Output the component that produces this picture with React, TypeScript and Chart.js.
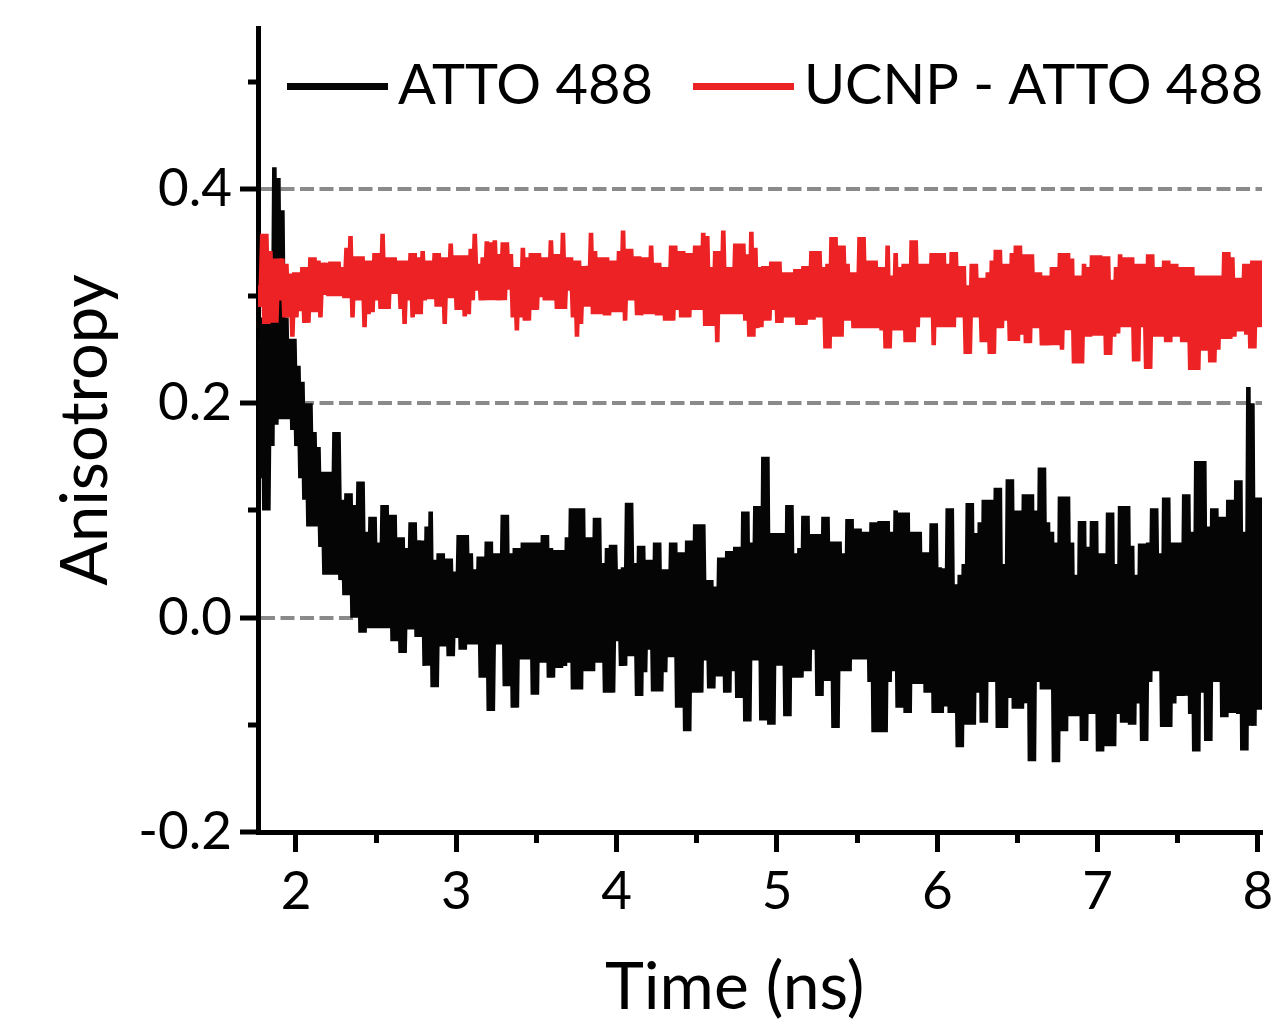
import React, { useEffect, useRef } from 'react';
import { Chart, registerables } from 'chart.js';

Chart.register(...registerables);

// ---- data ----
const SERIES_LABELS = ['ATTO 488', 'UCNP - ATTO 488'];
const SERIES_COLORS = ['#050505', '#ED2224'];
const X_TITLE = 'Time (ns)';
const Y_TITLE = 'Anisotropy';
const X_RANGE = [1.763, 8.025];
const Y_RANGE = [-0.2, 0.55];
// sampling grid of the decay trace (ns)
const T0 = 1.765;
const DT = 0.0125;

// ATTO 488 anisotropy (noisy trace)
const ATTO = [
  0.26,0.13, 0.28,0.10, 0.29,0.10, 0.30,0.16, 0.42,0.18, 0.41,0.185, 0.38,0.185, 0.28,0.185, 0.26,0.175, 0.26,0.16,
  0.235,0.13, 0.22,0.11, 0.20,0.085, 0.20,0.085, 0.173,0.085, 0.159,0.066, 0.136,0.04, 0.136,0.04, 0.136,0.04, 0.173,0.04,
  0.173,0.035, 0.11,0.021, 0.116,0.021, 0.116,0.0, 0.105,0.0, 0.127,-0.014, 0.127,-0.014, 0.08,-0.01, 0.094,-0.01, 0.094,-0.01,
  0.07,-0.01, 0.105,-0.01, 0.105,-0.01, 0.096,-0.022, 0.096,-0.022, 0.075,-0.033, 0.075,-0.033, 0.065,-0.011, 0.089,-0.011, 0.089,-0.018,
  0.072,-0.018, 0.072,-0.045, 0.085,-0.045, 0.099,-0.065, 0.054,-0.065, 0.06,-0.027, 0.06,-0.027, 0.055,-0.036, 0.055,-0.036, 0.043,-0.019,
  0.077,-0.03, 0.077,-0.03, 0.077,-0.025, 0.06,-0.025, 0.045,-0.025, 0.057,-0.056, 0.057,-0.056, 0.071,-0.087, 0.071,-0.087, 0.06,-0.025,
  0.06,-0.025, 0.096,-0.064, 0.096,-0.064, 0.06,-0.084, 0.065,-0.084, 0.065,-0.039, 0.07,-0.039, 0.07,-0.039, 0.07,-0.072, 0.07,-0.072,
  0.07,-0.042, 0.077,-0.042, 0.077,-0.056, 0.065,-0.056, 0.063,-0.047, 0.063,-0.047, 0.063,-0.045, 0.075,-0.042, 0.102,-0.067, 0.102,-0.067,
  0.102,-0.067, 0.102,-0.05, 0.075,-0.05, 0.075,-0.05, 0.093,-0.042, 0.093,-0.042, 0.051,-0.07, 0.065,-0.07, 0.068,-0.07, 0.068,-0.022,
  0.045,-0.045, 0.047,-0.045, 0.107,-0.036, 0.107,-0.036, 0.051,-0.073, 0.067,-0.073, 0.067,-0.051, 0.054,-0.03, 0.054,-0.069, 0.07,-0.069,
  0.07,-0.069, 0.045,-0.051, 0.045,-0.037, 0.07,-0.037, 0.07,-0.084, 0.061,-0.084, 0.061,-0.106, 0.072,-0.106, 0.072,-0.07, 0.087,-0.07,
  0.087,-0.07, 0.087,-0.04, 0.035,-0.066, 0.035,-0.066, 0.029,-0.055, 0.056,-0.055, 0.056,-0.07, 0.062,-0.07, 0.062,-0.05, 0.066,-0.075,
  0.066,-0.075, 0.099,-0.097, 0.099,-0.097, 0.07,-0.04, 0.104,-0.04, 0.104,-0.096, 0.15,-0.096, 0.15,-0.1, 0.079,-0.1, 0.079,-0.045,
  0.079,-0.045, 0.079,-0.092, 0.105,-0.092, 0.105,-0.056, 0.06,-0.056, 0.065,-0.056, 0.095,-0.05, 0.095,-0.05, 0.078,-0.03, 0.078,-0.073,
  0.078,-0.073, 0.094,-0.059, 0.094,-0.059, 0.071,-0.103, 0.071,-0.103, 0.071,-0.05, 0.06,-0.05, 0.092,-0.05, 0.092,-0.039, 0.083,-0.039,
  0.083,-0.039, 0.08,-0.039, 0.08,-0.06, 0.089,-0.107, 0.089,-0.107, 0.09,-0.107, 0.09,-0.107, 0.09,-0.06, 0.08,-0.05, 0.1,-0.084,
  0.098,-0.084, 0.098,-0.089, 0.098,-0.089, 0.08,-0.062, 0.08,-0.062, 0.08,-0.062, 0.061,-0.07, 0.061,-0.07, 0.088,-0.089, 0.088,-0.089,
  0.047,-0.089, 0.046,-0.083, 0.102,-0.089, 0.102,-0.089, 0.031,-0.121, 0.04,-0.121, 0.05,-0.1, 0.107,-0.1, 0.107,-0.1, 0.079,-0.07,
  0.089,-0.098, 0.11,-0.098, 0.11,-0.06, 0.11,-0.06, 0.121,-0.103, 0.121,-0.103, 0.05,-0.103, 0.129,-0.075, 0.129,-0.085, 0.1,-0.085,
  0.1,-0.085, 0.115,-0.08, 0.115,-0.134, 0.115,-0.134, 0.1,-0.06, 0.14,-0.067, 0.14,-0.067, 0.089,-0.067, 0.08,-0.135, 0.07,-0.135,
  0.113,-0.106, 0.113,-0.106, 0.113,-0.092, 0.07,-0.092, 0.04,-0.092, 0.09,-0.115, 0.09,-0.115, 0.066,-0.09, 0.09,-0.09, 0.09,-0.125,
  0.06,-0.125, 0.06,-0.12, 0.098,-0.12, 0.098,-0.12, 0.05,-0.09, 0.104,-0.098, 0.104,-0.098, 0.104,-0.1, 0.067,-0.1, 0.04,-0.08,
  0.069,-0.115, 0.069,-0.115, 0.07,-0.06, 0.102,-0.05, 0.102,-0.05, 0.06,-0.102, 0.112,-0.102, 0.112,-0.102, 0.07,-0.08, 0.07,-0.073,
  0.07,-0.073, 0.115,-0.073, 0.115,-0.09, 0.08,-0.125, 0.146,-0.125, 0.146,-0.07, 0.146,-0.115, 0.085,-0.115, 0.102,-0.06, 0.102,-0.06,
  0.094,-0.093, 0.094,-0.093, 0.11,-0.089, 0.11,-0.089, 0.128,-0.09, 0.128,-0.124, 0.08,-0.124, 0.215,-0.101, 0.2,-0.101, 0.112,-0.086, 0.112,-0.086,
];

// UCNP - ATTO 488 anisotropy (noisy trace)
const UCNP = [
  0.31,0.29, 0.358,0.274, 0.358,0.274, 0.342,0.275, 0.335,0.275, 0.335,0.296, 0.335,0.28, 0.33,0.28, 0.321,0.262, 0.322,0.28,
  0.322,0.286, 0.327,0.275, 0.327,0.275, 0.336,0.285, 0.336,0.285, 0.333,0.28, 0.331,0.301, 0.331,0.3, 0.332,0.3, 0.332,0.3,
  0.332,0.3, 0.327,0.298, 0.345,0.298, 0.356,0.28, 0.337,0.296, 0.337,0.296, 0.337,0.271, 0.333,0.283, 0.333,0.285, 0.34,0.296,
  0.34,0.288, 0.358,0.288, 0.336,0.288, 0.336,0.302, 0.336,0.302, 0.333,0.288, 0.333,0.274, 0.333,0.296, 0.34,0.28, 0.34,0.283,
  0.336,0.283, 0.342,0.296, 0.333,0.297, 0.333,0.297, 0.34,0.29, 0.34,0.29, 0.336,0.274, 0.336,0.298, 0.349,0.298, 0.338,0.287,
  0.338,0.287, 0.338,0.281, 0.338,0.283, 0.344,0.296, 0.358,0.305, 0.33,0.296, 0.336,0.296, 0.351,0.296, 0.35,0.296, 0.352,0.296,
  0.339,0.296, 0.35,0.296, 0.35,0.306, 0.339,0.28, 0.327,0.268, 0.327,0.28, 0.345,0.277, 0.336,0.277, 0.34,0.287, 0.34,0.287,
  0.34,0.299, 0.336,0.296, 0.336,0.296, 0.352,0.296, 0.339,0.288, 0.339,0.288, 0.359,0.288, 0.336,0.305, 0.336,0.28, 0.333,0.262,
  0.333,0.274, 0.328,0.29, 0.328,0.29, 0.359,0.283, 0.342,0.283, 0.336,0.283, 0.336,0.282, 0.336,0.282, 0.333,0.285, 0.333,0.285,
  0.342,0.285, 0.361,0.277, 0.344,0.296, 0.344,0.296, 0.337,0.282, 0.337,0.282, 0.336,0.283, 0.336,0.283, 0.347,0.283, 0.331,0.282,
  0.331,0.282, 0.327,0.277, 0.327,0.277, 0.347,0.277, 0.347,0.287, 0.342,0.28, 0.342,0.28, 0.34,0.28, 0.34,0.287, 0.347,0.287,
  0.347,0.287, 0.359,0.272, 0.356,0.272, 0.327,0.272, 0.342,0.257, 0.342,0.283, 0.361,0.283, 0.327,0.283, 0.327,0.283, 0.349,0.283,
  0.349,0.283, 0.349,0.277, 0.339,0.262, 0.36,0.262, 0.345,0.27, 0.327,0.271, 0.328,0.277, 0.328,0.277, 0.332,0.287, 0.332,0.275,
  0.332,0.275, 0.322,0.28, 0.322,0.28, 0.322,0.28, 0.325,0.273, 0.325,0.273, 0.328,0.273, 0.328,0.278, 0.342,0.278, 0.342,0.28,
  0.342,0.28, 0.327,0.251, 0.33,0.251, 0.355,0.262, 0.355,0.262, 0.347,0.262, 0.347,0.277, 0.33,0.277, 0.322,0.27, 0.322,0.27,
  0.355,0.27, 0.355,0.27, 0.333,0.27, 0.333,0.27, 0.333,0.27, 0.327,0.268, 0.327,0.251, 0.347,0.251, 0.319,0.268, 0.34,0.268,
  0.327,0.268, 0.33,0.257, 0.33,0.257, 0.352,0.257, 0.352,0.271, 0.33,0.28, 0.33,0.28, 0.33,0.28, 0.34,0.254, 0.34,0.271,
  0.34,0.271, 0.34,0.271, 0.33,0.271, 0.341,0.271, 0.341,0.28, 0.328,0.28, 0.328,0.246, 0.31,0.246, 0.33,0.28, 0.33,0.28,
  0.317,0.257, 0.317,0.257, 0.322,0.246, 0.333,0.246, 0.343,0.27, 0.343,0.27, 0.33,0.277, 0.33,0.258, 0.34,0.258, 0.347,0.258,
  0.347,0.264, 0.339,0.256, 0.339,0.256, 0.339,0.27, 0.322,0.27, 0.322,0.254, 0.319,0.254, 0.319,0.254, 0.327,0.254, 0.327,0.254,
  0.34,0.25, 0.34,0.268, 0.34,0.268, 0.335,0.237, 0.319,0.237, 0.319,0.237, 0.33,0.262, 0.327,0.262, 0.338,0.263, 0.338,0.263,
  0.338,0.263, 0.337,0.245, 0.337,0.245, 0.315,0.262, 0.327,0.265, 0.339,0.271, 0.336,0.271, 0.336,0.271, 0.336,0.239, 0.33,0.239,
  0.33,0.271, 0.33,0.232, 0.339,0.232, 0.339,0.262, 0.327,0.262, 0.327,0.262, 0.333,0.257, 0.333,0.257, 0.33,0.262, 0.33,0.262,
  0.327,0.257, 0.327,0.257, 0.327,0.231, 0.327,0.231, 0.319,0.231, 0.319,0.249, 0.319,0.249, 0.319,0.238, 0.319,0.238, 0.319,0.25,
  0.319,0.26, 0.341,0.26, 0.341,0.26, 0.336,0.262, 0.317,0.267, 0.317,0.267, 0.33,0.264, 0.33,0.251, 0.333,0.251, 0.333,0.271, 0.333,0.271,
];

const FONT = 'Lato, "Open Sans", sans-serif';
const W = 1282;
const H = 1024;

const toPoints = (vals: number[]) => vals.map((y, i) => ({ x: T0 + i * DT, y }));
const isInt = (v: number) => Math.abs(v - Math.round(v)) < 1e-6;
const isMajorY = (v: number) => Math.round(v * 10) % 2 === 0;
const hasGrid = (v: number) => {
  const k = Math.round(v * 10);
  return k === 0 || k === 2 || k === 4;
};

const makeSwatch = (color: string) => {
  const c = document.createElement('canvas');
  c.width = 101;
  c.height = 7;
  const g = c.getContext('2d');
  if (g) {
    g.fillStyle = color;
    g.fillRect(0, 0, 101, 7);
  }
  return c;
};

// places the legend inside the plot area (as in the reference) without reserving layout space
const legendInside = {
  id: 'legendInside',
  beforeInit(chart: any) {
    const lg = chart.legend;
    if (!lg) return;
    const orig = lg.fit;
    lg.fit = function () {
      orig.call(this);
      this.height = 0;
    };
  },
  afterLayout(chart: any) {
    const lg = chart.legend;
    if (!lg) return;
    lg.left = 247;
    lg.right = 1600;
    lg.top = 0;
    lg.bottom = 140;
    lg.width = lg.right - lg.left;
    lg.height = 140;
  },
};

export default function App() {
  const ref = useRef<HTMLCanvasElement | null>(null);

  useEffect(() => {
    if (!ref.current) return;
    const swatches = SERIES_COLORS.map(makeSwatch);
    const lineDataset = (i: number, vals: number[], order: number) => ({
      label: SERIES_LABELS[i],
      data: toPoints(vals),
      borderColor: SERIES_COLORS[i],
      backgroundColor: SERIES_COLORS[i],
      borderWidth: 4.6,
      borderJoinStyle: 'miter',
      pointRadius: 0,
      pointHoverRadius: 0,
      tension: 0,
      fill: false,
      order,
    });
    const chart = new Chart(ref.current, {
      type: 'line',
      data: {
        datasets: [lineDataset(0, ATTO, 2), lineDataset(1, UCNP, 1)],
      },
      options: {
        animation: false,
        responsive: false,
        devicePixelRatio: 1,
        events: [],
        layout: { padding: { left: 0, right: 20, top: 28, bottom: 0 } },
        plugins: {
          tooltip: { enabled: false },
          legend: {
            display: true,
            position: 'top',
            align: 'start',
            labels: {
              usePointStyle: true,
              pointStyleWidth: 65,
              boxHeight: 7,
              padding: 58,
              color: '#000',
              font: { family: FONT, size: 56 },
              generateLabels: (c: any) =>
                c.data.datasets.map((ds: any, i: number) => ({
                  text: ds.label,
                  fillStyle: ds.borderColor,
                  strokeStyle: ds.borderColor,
                  lineWidth: 0,
                  pointStyle: swatches[i],
                  hidden: false,
                  datasetIndex: i,
                })),
            },
          },
        },
        scales: {
          x: {
            type: 'linear',
            position: 'bottom',
            min: X_RANGE[0],
            max: X_RANGE[1],
            afterFit: (s: any) => {
              s.height = H - 832;
              s.paddingLeft = 0;
              s.paddingRight = 0;
            },
            border: { display: true, color: '#000', width: 5 },
            grid: {
              display: true,
              drawOnChartArea: false,
              color: 'rgba(0,0,0,0)',
              tickColor: '#000',
              tickWidth: 5,
              tickLength: 20,
              tickBorderDash: (c: any) => (isInt(c.tick.value) ? [] : [8, 100]),
            },
            ticks: {
              stepSize: 0.5,
              includeBounds: false,
              autoSkip: false,
              maxRotation: 0,
              minRotation: 0,
              padding: 8,
              color: '#000',
              font: { family: FONT, size: 53 },
              callback: (v: any) => (isInt(Number(v)) ? String(Math.round(Number(v))) : ''),
            },
            title: {
              display: true,
              text: X_TITLE + '   ',
              color: '#000',
              font: { family: FONT, size: 66, lineHeight: 1 },
              padding: { top: 0, bottom: 3 },
            },
          },
          y: {
            type: 'linear',
            position: 'left',
            min: Y_RANGE[0],
            max: Y_RANGE[1],
            afterFit: (s: any) => {
              s.width = 258;
              s.paddingTop = 0;
              s.paddingBottom = 0;
            },
            border: { display: true, color: '#000', width: 5, dash: [14, 5.5] },
            grid: {
              display: true,
              drawOnChartArea: true,
              lineWidth: 4,
              color: (c: any) => (hasGrid(c.tick.value) ? '#8a8a8a' : 'rgba(0,0,0,0)'),
              tickColor: '#000',
              tickWidth: 5,
              tickLength: 18,
              tickBorderDash: (c: any) => (isMajorY(c.tick.value) ? [] : [0, 8, 40]),
            },
            ticks: {
              stepSize: 0.1,
              includeBounds: false,
              autoSkip: false,
              padding: 8,
              color: '#000',
              font: { family: FONT, size: 53 },
              callback: (v: any) => (isMajorY(Number(v)) ? Number(v).toFixed(1) : ''),
            },
            title: {
              display: true,
              text: Y_TITLE,
              color: '#000',
              font: { family: FONT, size: 65 },
              padding: { top: 47, bottom: 0 },
            },
          },
        },
      },
      plugins: [legendInside],
    } as any);
    return () => chart.destroy();
  }, []);

  return (
    <div style={{ position: 'fixed', left: 0, top: 0, width: W, height: H, background: '#fff' }}>
      <canvas ref={ref} width={W} height={H} style={{ display: 'block', width: W, height: H }} />
    </div>
  );
}
